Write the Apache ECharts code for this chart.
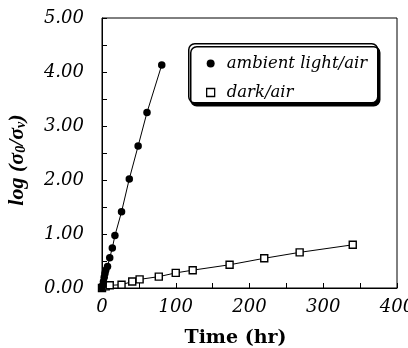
<!DOCTYPE html>
<html><head><meta charset="utf-8">
<script src="https://cdn.jsdelivr.net/npm/echarts@6/dist/echarts.min.js"></script>
<style>html,body{margin:0;padding:0;background:#fff;overflow:hidden}#c{width:408px;height:348px}</style>
</head><body><div id="c"></div>
<script>
const ambientTime = [0, 1, 2, 3, 4, 5, 7.5, 10.5, 14, 17.5, 26.5, 37, 49, 61, 81];
const ambientLog  = [0, 0.05, 0.12, 0.2, 0.27, 0.33, 0.4, 0.56, 0.74, 0.97, 1.41, 2.02, 2.63, 3.25, 4.13];
const darkTime = [0, 5, 10.5, 26.5, 41, 51, 77, 100, 123, 173, 220, 268, 340];
const darkLog  = [0, 0.03, 0.05, 0.06, 0.12, 0.16, 0.21, 0.28, 0.33, 0.43, 0.55, 0.66, 0.80];
const xTicks = [0, 100, 200, 300, 400];
const yTicks = ['0.00', '1.00', '2.00', '3.00', '4.00', '5.00'];
const seriesNames = ['ambient light/air', 'dark/air'];

const pair = (xs, ys) => xs.map((x, i) => [x, ys[i]]);
const serif = 'DejaVu Serif';
const el = document.getElementById('c');
const chart = echarts.init(el, null, {renderer: 'canvas'});
chart.setOption({
  animation: false,
  backgroundColor: '#fff',
  grid: {left: 102, right: 11, top: 18, bottom: 60, containLabel: false, outerBoundsMode: 'none',
    show: true, borderColor: '#000', borderWidth: 1, backgroundColor: 'transparent'},
  graphic: [{
    type: 'rect', left: 188, top: 43, z: 5,
    shape: {width: 189, height: 59, r: 6},
    style: {fill: '#fff', stroke: '#000', lineWidth: 1.5, shadowColor: '#000', shadowBlur: 0, shadowOffsetX: 2, shadowOffsetY: 3}
  }],
  legend: {
    orient: 'vertical', left: 206, top: 55, z: 10,
    padding: 0, itemGap: 12,
    itemWidth: 8, itemHeight: 8,
    textStyle: {fontFamily: serif, fontStyle: 'italic', fontSize: 16.5, color: '#000', padding: [0, 0, 0, 7]},
    data: [
      {name: seriesNames[0], icon: 'circle', itemStyle: {color: '#000', borderWidth: 0}},
      {name: seriesNames[1], icon: 'rect', itemStyle: {color: '#fff', borderColor: '#000', borderWidth: 1.3}}
    ]
  },
  xAxis: {
    type: 'value', min: 0, max: 400, interval: 100,
    axisLine: {show: true, lineStyle: {color: '#000', width: 1}},
    axisTick: {show: true, inside: true, length: 5, lineStyle: {color: '#000'}},
    minorTick: {show: true, splitNumber: 2, length: 5, lineStyle: {color: '#000'}},
    splitLine: {show: false},
    axisLabel: {margin: 10, fontFamily: serif, fontStyle: 'italic', fontSize: 18, color: '#000',
      formatter: v => xTicks.includes(v) ? String(v) : ''},
    name: 'Time (hr)', nameLocation: 'middle', nameGap: 41,
    nameTextStyle: {fontFamily: serif, fontWeight: 'bold', fontSize: 19, color: '#000', padding: [0, 28, 0, 0]}
  },
  yAxis: {
    type: 'value', min: 0, max: 5, interval: 1,
    axisLine: {show: true, lineStyle: {color: '#000', width: 1}},
    axisTick: {show: true, inside: true, length: 5, lineStyle: {color: '#000'}},
    minorTick: {show: true, splitNumber: 2, length: 5, lineStyle: {color: '#000'}},
    splitLine: {show: false},
    axisLabel: {margin: 18, fontFamily: serif, fontStyle: 'italic', fontSize: 18, color: '#000',
      formatter: v => yTicks[Math.round(v)]},
    name: '{t|log (σ}{s|0}{t|/σ}{s|v}{t|)}', nameLocation: 'middle', nameGap: 74,
    nameTextStyle: {
      color: '#000', padding: [0, 14, 0, 0],
      rich: {
        t: {fontFamily: 'Liberation Serif', fontWeight: 'bold', fontStyle: 'italic', fontSize: 22, color: '#000'},
        s: {fontFamily: 'Liberation Serif', fontWeight: 'bold', fontStyle: 'italic', fontSize: 14, color: '#000', padding: [8, 0, 0, 0]}
      }
    }
  },
  series: [
    {name: seriesNames[0], type: 'line', data: pair(ambientTime, ambientLog),
     symbol: 'circle', symbolSize: 7.5, lineStyle: {color: '#000', width: 1},
     itemStyle: {color: '#000', borderWidth: 0}, z: 3},
    {name: seriesNames[1], type: 'line', data: pair(darkTime, darkLog),
     symbol: 'rect', symbolSize: 7, lineStyle: {color: '#000', width: 1},
     itemStyle: {color: '#fff', borderColor: '#000', borderWidth: 1.4}, z: 2}
  ]
});
</script></body></html>
